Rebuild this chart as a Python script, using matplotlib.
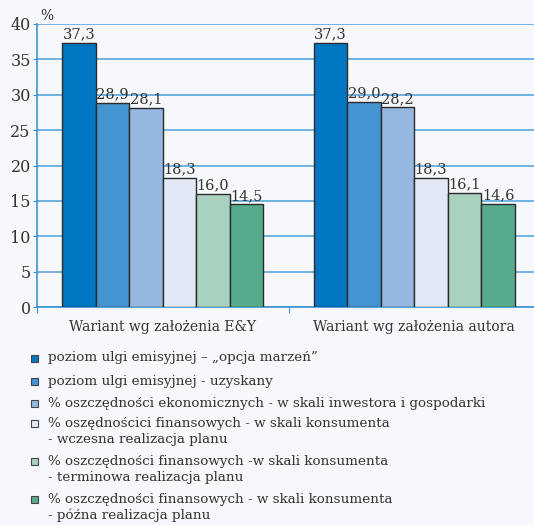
import matplotlib
matplotlib.use("Agg")
import matplotlib.pyplot as plt
import numpy as np
from matplotlib.patches import Rectangle

variants = ["Wariant wg założenia E&Y", "Wariant wg założenia autora"]
series_labels = [
    "poziom ulgi emisyjnej – „opcja marzeń”",
    "poziom ulgi emisyjnej - uzyskany",
    "% oszczędności ekonomicznych - w skali inwestora i gospodarki",
    "% oszędnościci finansowych - w skali konsumenta\n- wczesna realizacja planu",
    "% oszczędności finansowych -w skali konsumenta\n- terminowa realizacja planu",
    "% oszczędności finansowych - w skali konsumenta\n- późna realizacja planu",
]
values = [
    [37.3, 37.3],
    [28.9, 29.0],
    [28.1, 28.2],
    [18.3, 18.3],
    [16.0, 16.1],
    [14.5, 14.6],
]
colors = ["#0077c0", "#4394d0", "#94b8e0", "#e2e8f5", "#a8d1bf", "#56ab8d"]

bg = "#f7f8fc"
grid_col = "#4aa0dc"
spine_col = "#3a92d2"
text_col = "#333333"
plt.rcParams["font.family"] = ["DejaVu Serif"]

fig = plt.figure(figsize=(5.34, 5.25), dpi=100, facecolor=bg)
ax = fig.add_axes([37 / 534, 1 - 307 / 525, 503 / 534, 283 / 525])
ax.set_facecolor(bg)

x = np.arange(len(variants))
n = len(values)
w = 0.8 / n
for i, vals in enumerate(values):
    pos = x - 0.4 + w * (i + 0.5)
    bars = ax.bar(pos, vals, width=w, color=colors[i], edgecolor="#2b2b2b",
                  linewidth=1.0, zorder=3)
    for b, v in zip(bars, vals):
        ax.text(b.get_x() + b.get_width() / 2, v + 0.2, f"{v:.1f}".replace(".", ","),
                ha="center", va="bottom", fontsize=10.5, color=text_col, zorder=4)

ax.set_xlim(-0.5, 1.5)
ax.set_ylim(0, 40)
ax.set_yticks(range(0, 41, 5))
ax.set_xticks([-0.5, 0.5, 1.5])
ax.set_xticklabels([])
ax.set_xticks(x, minor=True)
ax.set_xticklabels(variants, minor=True)
ax.tick_params(axis="x", which="minor", length=0, pad=9, labelsize=10, labelcolor=text_col)
ax.tick_params(axis="x", which="major", length=4, color=spine_col, direction="out")
ax.tick_params(axis="y", length=3, color=spine_col, labelsize=11.5, labelcolor=text_col, pad=1.5)
ax.grid(axis="y", color=grid_col, linewidth=1.1, zorder=0)
for side in ["top", "right"]:
    ax.spines[side].set_visible(False)
for side in ["left", "bottom"]:
    ax.spines[side].set_color(spine_col)
    ax.spines[side].set_linewidth(1.2)
fig.text(40 / 534, 1 - 16 / 525, "%", fontsize=10, color=text_col, va="center")

# legend drawn by hand so the marker sits on the first line
row_y = [358, 381, 403, 423, 461, 499]
line_step = 16
for i, (lab, y) in enumerate(zip(series_labels, row_y)):
    fig.patches.append(Rectangle((31 / 534, 1 - (y + 3.5) / 525), 7 / 534, 7 / 525,
                                 transform=fig.transFigure, facecolor=colors[i],
                                 edgecolor="#444444", linewidth=0.8))
    for k, line in enumerate(lab.split("\n")):
        fig.text(48 / 534, 1 - (y + k * line_step) / 525, line, fontsize=9.7,
                 color=text_col, va="center", ha="left")

fig.savefig("out.png", dpi=100, facecolor=bg)
